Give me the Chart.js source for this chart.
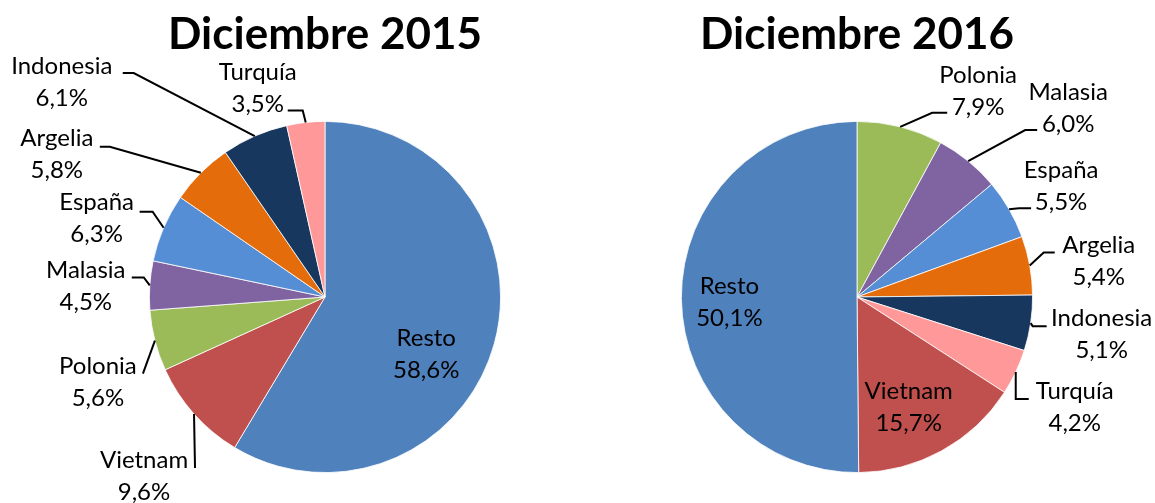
<!DOCTYPE html>
<html>
<head>
<meta charset="utf-8">
<script src="https://cdn.jsdelivr.net/npm/chart.js@4.4.1/dist/chart.umd.min.js"></script>
<style>
  html, body { margin: 0; padding: 0; background: #fff; }
  #wrap { position: relative; width: 1155px; height: 503px; overflow: hidden; }
  .box { position: absolute; top: 0; height: 503px; }
  #box-2015 { left: 0; width: 650px; }
  #box-2016 { left: 559px; width: 596px; }
</style>
</head>
<body>
<div id="wrap">
  <div class="box" id="box-2015"><canvas id="pie-2015"></canvas></div>
  <div class="box" id="box-2016"><canvas id="pie-2016"></canvas></div>
</div>
<script>
// ── Data ───────────────────────────────────────────────────────────────────
const countries2015 = ['Resto', 'Vietnam', 'Polonia', 'Malasia', 'España', 'Argelia', 'Indonesia', 'Turquía'];
const shares2015    = [58.6, 9.6, 5.6, 4.5, 6.3, 5.8, 6.1, 3.5];

const countries2016 = ['Polonia', 'Malasia', 'España', 'Argelia', 'Indonesia', 'Turquía', 'Vietnam', 'Resto'];
const shares2016    = [7.9, 6.0, 5.5, 5.4, 5.1, 4.2, 15.7, 50.1];

const countryColors = {
  'Resto':     '#4F81BD',
  'Vietnam':   '#C0504D',
  'Polonia':   '#9BBB59',
  'Malasia':   '#8064A2',
  'España':    '#558ED5',
  'Argelia':   '#E46C0A',
  'Indonesia': '#17375E',
  'Turquía':   '#FF9999',
};

// Label placement, relative to the point on the rim at each slice's mid angle.
// t = centre of first text line, e = leader elbow, h = leader end (no e = inside label)
const layout2015 = {
  'Resto':     { t: [-68, -6] },
  'Vietnam':   { t: [-50, 46],   e: [1, 54],     h: [1, 54] },
  'Polonia':   { t: [-57, 26],   e: [-12, 33],   h: [-12, 33] },
  'Malasia':   { t: [-64, -15],  e: [-6, -8],    h: [-18, -8] },
  'España':    { t: [-67, -26],  e: [-11, -16],  h: [-24, -16] },
  'Argelia':   { t: [-144, -35], e: [-91, -26],  h: [-101, -26] },
  'Indonesia': { t: [-193, -70], e: [-121, -63], h: [-132, -63] },
  'Turquía':   { t: [-48, -50],  e: [-3, -12],   h: [-18, -12] },
};
const layout2016 = {
  'Polonia':   { t: [78, -52],  e: [32, -14],  h: [47, -14] },
  'Malasia':   { t: [100, -69], e: [57, -31],  h: [69, -31] },
  'España':    { t: [52, -39],  e: [10, -1],   h: [22, -1] },
  'Argelia':   { t: [69, -20],  e: [14, -13],  h: [25, -13] },
  'Indonesia': { t: [71, -5],   e: [2, 3],     h: [16, 3] },
  'Turquía':   { t: [59, 19],   e: [0, 27],    h: [13, 27] },
  'Vietnam':   { t: [-33, -60] },
  'Resto':     { t: [48, -12] },
};

const FONT = 'Lato, "Open Sans", sans-serif';
const LINE_GAP = 32;

function fmtShare(v) {
  return v.toFixed(1).replace('.', ',') + '%';
}

// ── Labels with leader lines ───────────────────────────────────────────────
const pieLabels = {
  id: 'pieLabels',
  afterDatasetsDraw(chart, args, opts) {
    const ctx = chart.ctx;
    const meta = chart.getDatasetMeta(0);
    const values = chart.data.datasets[0].data;
    ctx.save();
    ctx.font = '24px ' + FONT;
    ctx.fillStyle = '#000';
    ctx.strokeStyle = '#000';
    ctx.lineWidth = 2;
    ctx.textAlign = 'center';
    ctx.textBaseline = 'middle';
    meta.data.forEach((arc, i) => {
      const name = chart.data.labels[i];
      const cfg = opts.layout[name];
      if (!cfg) return;
      const { x, y, startAngle, endAngle, outerRadius } =
        arc.getProps(['x', 'y', 'startAngle', 'endAngle', 'outerRadius'], true);
      const mid = (startAngle + endAngle) / 2;
      const px = x + Math.cos(mid) * outerRadius;
      const py = y + Math.sin(mid) * outerRadius;
      if (cfg.e) {
        ctx.beginPath();
        ctx.moveTo(px, py);
        ctx.lineTo(px + cfg.e[0], py + cfg.e[1]);
        ctx.lineTo(px + cfg.h[0], py + cfg.h[1]);
        ctx.stroke();
      }
      const tx = px + cfg.t[0];
      const ty = py + cfg.t[1];
      ctx.fillText(name, tx, ty);
      ctx.fillText(fmtShare(values[i]), tx, ty + LINE_GAP);
    });
    ctx.restore();
  }
};

function makePie(canvasId, title, labels, values, layout, boxWidth) {
  const side = (boxWidth - 352) / 2;
  return new Chart(document.getElementById(canvasId), {
    type: 'pie',
    data: {
      labels,
      datasets: [{
        data: values,
        backgroundColor: labels.map(l => countryColors[l]),
        borderColor: '#ffffff',
        borderWidth: 0.8,
      }]
    },
    options: {
      responsive: true,
      maintainAspectRatio: false,
      animation: false,
      layout: { padding: { left: side, right: side, top: 0, bottom: 30 } },
      plugins: {
        legend: { display: false },
        tooltip: { enabled: false },
        title: {
          display: true,
          text: title,
          color: '#000',
          font: { family: FONT, size: 44, weight: 'bold', lineHeight: 1.2 },
          padding: { top: 8, bottom: 60.2 },
        },
        pieLabels: { layout },
      }
    },
    plugins: [pieLabels]
  });
}

makePie('pie-2015', 'Diciembre 2015', countries2015, shares2015, layout2015, 650);
makePie('pie-2016', 'Diciembre 2016', countries2016, shares2016, layout2016, 596);
</script>
</body>
</html>
